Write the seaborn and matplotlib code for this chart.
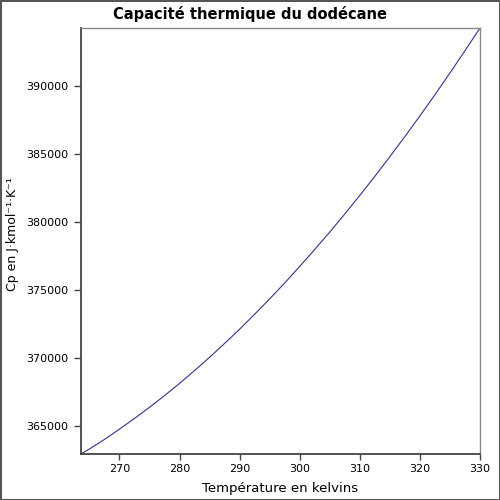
import matplotlib
matplotlib.use("Agg")
import matplotlib.pyplot as plt
import seaborn as sns
import pandas as pd

# values
temperature = [263.6, 265, 267.5, 270, 272.5, 275, 277.5, 280, 282.5, 285, 287.5,
               290, 292.5, 295, 297.5, 300, 302.5, 305, 307.5, 310, 312.5, 315,
               317.5, 320, 322.5, 325, 327.5, 330]
cp = [362930, 363300, 364000, 364760, 365550, 366370, 367230, 368130, 369070, 370050,
      371070, 372120, 373220, 374350, 375520, 376740, 377990, 379270, 380600, 381970,
      383370, 384820, 386300, 387820, 389380, 390980, 392620, 394290]

df = pd.DataFrame({"T": temperature, "Cp": cp})

sns.set_style("white")
plt.rcParams.update({"text.color": "black", "axes.labelcolor": "black",
                     "xtick.color": "black", "ytick.color": "black"})
fig = plt.figure(figsize=(5, 5), dpi=100)
fig.patch.set_edgecolor("#555555")
fig.patch.set_linewidth(2)
ax = fig.add_axes([0.162, 0.092, 0.798, 0.852])

sns.lineplot(data=df, x="T", y="Cp", color="#33338f", linewidth=0.8, ax=ax)

ax.set_xlim(263.6, 330)
ax.set_ylim(362930, 394290)
ax.set_xticks([270, 280, 290, 300, 310, 320, 330])
ax.set_yticks([365000, 370000, 375000, 380000, 385000, 390000])
ax.tick_params(axis="x", length=4, width=1, color="#444444", bottom=True, pad=3, labelsize=8)
ax.tick_params(axis="y", length=5, width=1, color="#444444", left=True, labelsize=8, pad=4)

for side in ["left", "bottom"]:
    ax.spines[side].set_color("#444444")
    ax.spines[side].set_linewidth(1.3)
for side in ["top", "right"]:
    ax.spines[side].set_color("#888888")
    ax.spines[side].set_linewidth(1.0)

ax.set_xlabel("Température en kelvins", fontsize=9.5, labelpad=6)
ax.set_ylabel("Cp en J·kmol⁻¹·K⁻¹", fontsize=9)
ax.yaxis.set_label_coords(-0.155, 0.515)
fig.text(0.5, 1 - 14 / 500, "Capacité thermique du dodécane", fontsize=10.5,
         fontweight="bold", ha="center", va="center")

fig.savefig("out.png", dpi=100, edgecolor=fig.get_edgecolor())
